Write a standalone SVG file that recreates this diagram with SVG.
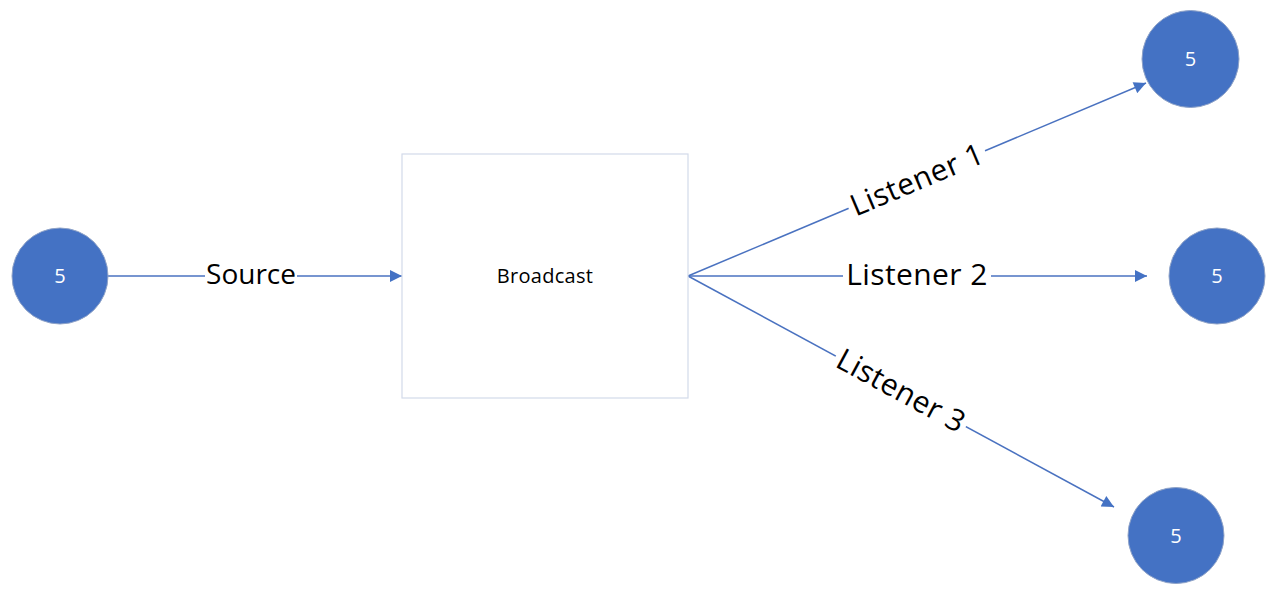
<svg xmlns="http://www.w3.org/2000/svg" width="1278" height="596" viewBox="0 0 1278 596">
<style>
.node circle{fill:#4472C4;stroke:#8FA3C8;stroke-width:1}
.num{font-family:"Open Sans","Noto Sans",sans-serif;font-size:20px;fill:#fff;text-anchor:middle}
.box{fill:#fff;stroke:#D3DAEA;stroke-width:1.2}
.btxt{font-family:"Open Sans","Noto Sans",sans-serif;font-size:20px;letter-spacing:0.3px;fill:#000;text-anchor:middle}
.conn line{stroke:#4A72C0;stroke-width:1.5;marker-end:url(#arr)}
.bg{fill:#fff}
.lbl{font-family:"Open Sans","Noto Sans",sans-serif;font-size:30px;letter-spacing:0.4px;fill:#000;text-anchor:middle}
.src{font-size:28px;letter-spacing:0}
</style>
<defs>
<marker id="arr" viewBox="0 0 10 10" refX="10" refY="5" markerWidth="14" markerHeight="12" markerUnits="userSpaceOnUse" orient="auto">
<path d="M0,0 L10,5 L0,10 z" fill="#4472C4"/>
</marker>
</defs>
<rect width="1278" height="596" fill="#fff"/>
<g class="conn">
<line x1="108" y1="276" x2="402" y2="276"/>
<line x1="688" y1="276" x2="1146" y2="83"/>
<line x1="688" y1="276" x2="1147" y2="276"/>
<line x1="688" y1="276" x2="1114" y2="507"/>
<g transform="translate(251,276)"><rect class="bg" x="-46" y="-16" width="92" height="32"/><text class="lbl src" x="0" y="8">Source</text></g>
<g transform="translate(917,180) rotate(-22.85)"><rect class="bg" x="-74" y="-16" width="148" height="32"/><text class="lbl" x="0" y="10">Listener 1</text></g>
<g transform="translate(917,276)"><rect class="bg" x="-74" y="-16" width="148" height="32"/><text class="lbl" x="0" y="9">Listener 2</text></g>
<g transform="translate(901,391) rotate(28.5)"><rect class="bg" x="-74" y="-16" width="148" height="32"/><text class="lbl" x="0" y="10">Listener 3</text></g>
</g>
<g id="source" class="node"><circle cx="60" cy="276" r="48"/><text class="num" x="60" y="283">5</text></g>
<g id="broadcast"><rect class="box" x="402" y="154" width="286" height="244"/><text class="btxt" x="545" y="283">Broadcast</text></g>
<g id="listener1" class="node"><circle cx="1190.5" cy="59" r="48.5"/><text class="num" x="1190.5" y="66">5</text></g>
<g id="listener2" class="node"><circle cx="1217" cy="276" r="48"/><text class="num" x="1217" y="283">5</text></g>
<g id="listener3" class="node"><circle cx="1176" cy="535.5" r="48"/><text class="num" x="1176" y="542.5">5</text></g>
</svg>
